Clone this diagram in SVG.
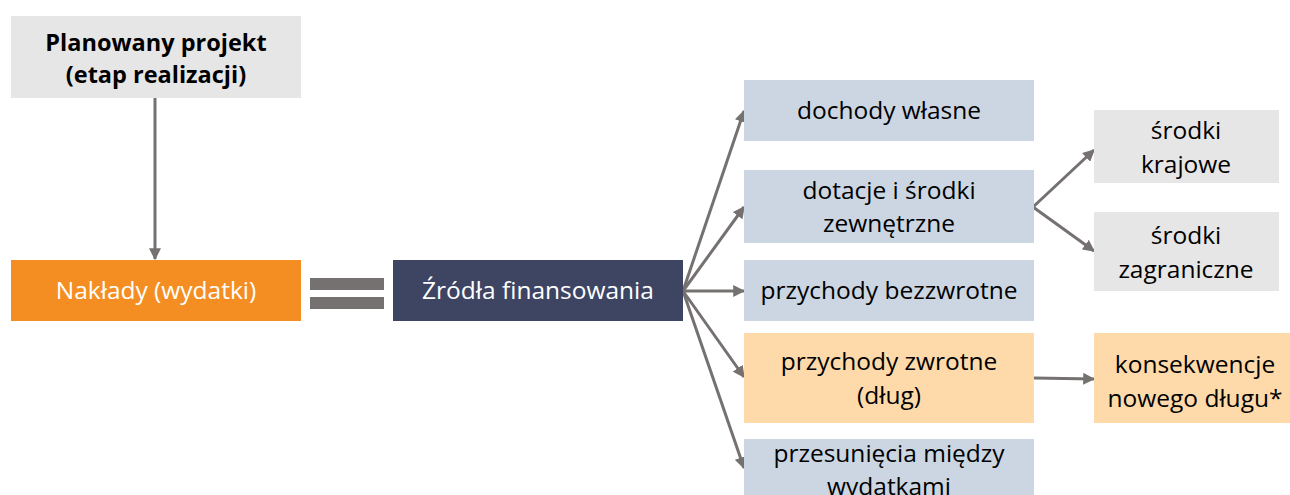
<svg xmlns="http://www.w3.org/2000/svg" width="1290" height="495" viewBox="0 0 1290 495">
<defs>
<marker id="ah" viewBox="0 0 10 10" refX="9" refY="5" markerWidth="4" markerHeight="4" orient="auto" markerUnits="strokeWidth">
<path d="M0,0 L10,5 L0,10 z" fill="#767171"/>
</marker>
<style>
text{font-family:"Open Sans","Noto Sans",sans-serif;font-size:24.5px;text-anchor:middle;fill:#000}
.w{fill:#fff}
.b{font-weight:bold;font-size:23.5px}
.c{stroke:#767171;stroke-width:3;fill:none;marker-end:url(#ah)}
.gray{fill:#e7e6e6}
.blue{fill:#cbd6e2}
.peach{fill:#fedaaa}
</style>
</defs>
<rect width="1290" height="495" fill="#fff"/>
<g id="connectors">
<line class="c" x1="155" y1="98" x2="155" y2="259"/>
<line class="c" x1="683" y1="291" x2="744" y2="111"/>
<line class="c" x1="683" y1="291" x2="744" y2="207"/>
<line class="c" x1="683" y1="291" x2="744" y2="291"/>
<line class="c" x1="683" y1="291" x2="744" y2="377"/>
<line class="c" x1="683" y1="291" x2="744" y2="468"/>
<line class="c" x1="1033" y1="207" x2="1094" y2="150"/>
<line class="c" x1="1033" y1="207" x2="1094" y2="251"/>
<line class="c" x1="1034" y1="378" x2="1094" y2="379"/>
</g>
<g id="planowany">
<rect class="gray" x="11" y="16" width="290" height="82"/>
<text class="b" x="156" y="51">Planowany projekt</text>
<text class="b" x="156" y="83">(etap realizacji)</text>
</g>
<g id="naklady">
<rect x="11" y="260" width="290" height="61" fill="#f48e22"/>
<text class="w" x="156" y="299">Nakłady (wydatki)</text>
</g>
<g id="equals">
<rect x="310" y="278" width="74" height="12" fill="#767171"/>
<rect x="310" y="297" width="74" height="12" fill="#767171"/>
</g>
<g id="zrodla">
<rect x="393" y="260" width="290" height="61" fill="#3d4562"/>
<text class="w" x="538" y="299">Źródła finansowania</text>
</g>
<g id="dochody">
<rect class="blue" x="744" y="80" width="290" height="61"/>
<text x="889" y="119">dochody własne</text>
</g>
<g id="dotacje">
<rect class="blue" x="744" y="170" width="290" height="73"/>
<text x="889" y="199">dotacje i środki</text>
<text x="889" y="232">zewnętrzne</text>
</g>
<g id="bezzwrotne">
<rect class="blue" x="744" y="260" width="290" height="61"/>
<text x="889" y="299">przychody bezzwrotne</text>
</g>
<g id="zwrotne">
<rect class="peach" x="744" y="333" width="290" height="90"/>
<text x="889" y="370">przychody zwrotne</text>
<text x="889" y="404">(dług)</text>
</g>
<g id="przesuniecia">
<rect class="blue" x="744" y="439" width="290" height="60"/>
<text x="889" y="462">przesunięcia między</text>
<text x="889" y="495">wydatkami</text>
</g>
<g id="krajowe">
<rect class="gray" x="1094" y="110" width="185" height="73"/>
<text x="1186" y="139">środki</text>
<text x="1186" y="173">krajowe</text>
</g>
<g id="zagraniczne">
<rect class="gray" x="1094" y="212" width="185" height="79"/>
<text x="1186" y="244">środki</text>
<text x="1186" y="278">zagraniczne</text>
</g>
<g id="konsekwencje">
<rect class="peach" x="1094" y="333" width="196" height="90"/>
<text x="1195" y="373">konsekwencje</text>
<text x="1195" y="407">nowego długu*</text>
</g>
</svg>
